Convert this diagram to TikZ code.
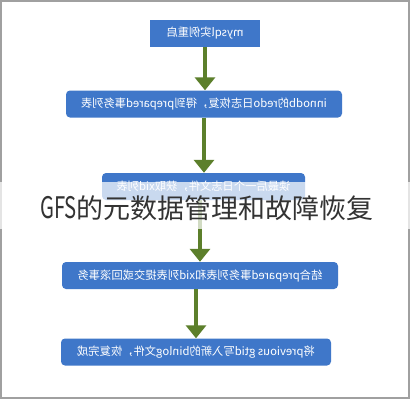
\documentclass[tikz,border=0pt]{standalone}
\usepackage{fontspec}
\usepackage{graphicx}
\newfontfamily\cjk{Noto Sans CJK SC}
\usetikzlibrary{arrows.meta}
\definecolor{boxblue}{HTML}{3F77C9}
\definecolor{arrowgreen}{HTML}{5C7F2B}
\definecolor{framegray}{HTML}{A0A0A0}
\tikzset{
  stepbox/.style={fill=boxblue, text=white, font=\cjk\fontsize{11.3}{13}\selectfont, inner sep=0pt, minimum height=27pt, rounded corners=4pt},
  flow/.style={draw=arrowgreen, line width=4pt, -{Triangle[width=20pt,length=13pt]}}
}
\begin{document}
\begin{tikzpicture}[x=1pt,y=-1pt]
\useasboundingbox (0,0) rectangle (410,400);
\fill[white] (0,0) rectangle (410,400);
\draw[framegray, line width=1.6pt] (1,1) rectangle (409,398);
\node[stepbox, rounded corners=0pt, minimum width=110pt] (b1) at (205,33.5) {\reflectbox{mysql实例重启}};
\node[stepbox, minimum width=276pt] (b2) at (204,104) {\reflectbox{innodb的redo日志恢复，得到prepared事务列表}};
\node[stepbox, minimum width=203pt] (b3) at (203.5,186.5) {\reflectbox{读最后一个日志文件，获取xid列表}};
\node[stepbox, minimum width=276pt] (b4) at (200,275.5) {\reflectbox{结合prepared事务列表和xid列表提交或回滚事务}};
\node[stepbox, minimum width=270pt] (b5) at (196,352) {\reflectbox{将previous gtid写入新的binlog文件，恢复完成}};
\draw[flow] (b1.south) -- (b1.south |- b2.north);
\draw[flow] (b2.south) -- (b2.south |- b3.north);
\draw[flow] (b4.north |- b3.south) -- (b4.north);
\draw[flow] (b5.north |- b4.south) -- (b5.north);
\fill[white, opacity=0.72] (0,182) rectangle (410,229);
\node[font=\cjk\fontsize{27}{29}\selectfont, text=black!80, inner sep=0pt, anchor=base west] (title) at (40,218.5) {\scalebox{0.75}[1.1]{GFS}的元数据管理和故障恢复};
\end{tikzpicture}
\end{document}
